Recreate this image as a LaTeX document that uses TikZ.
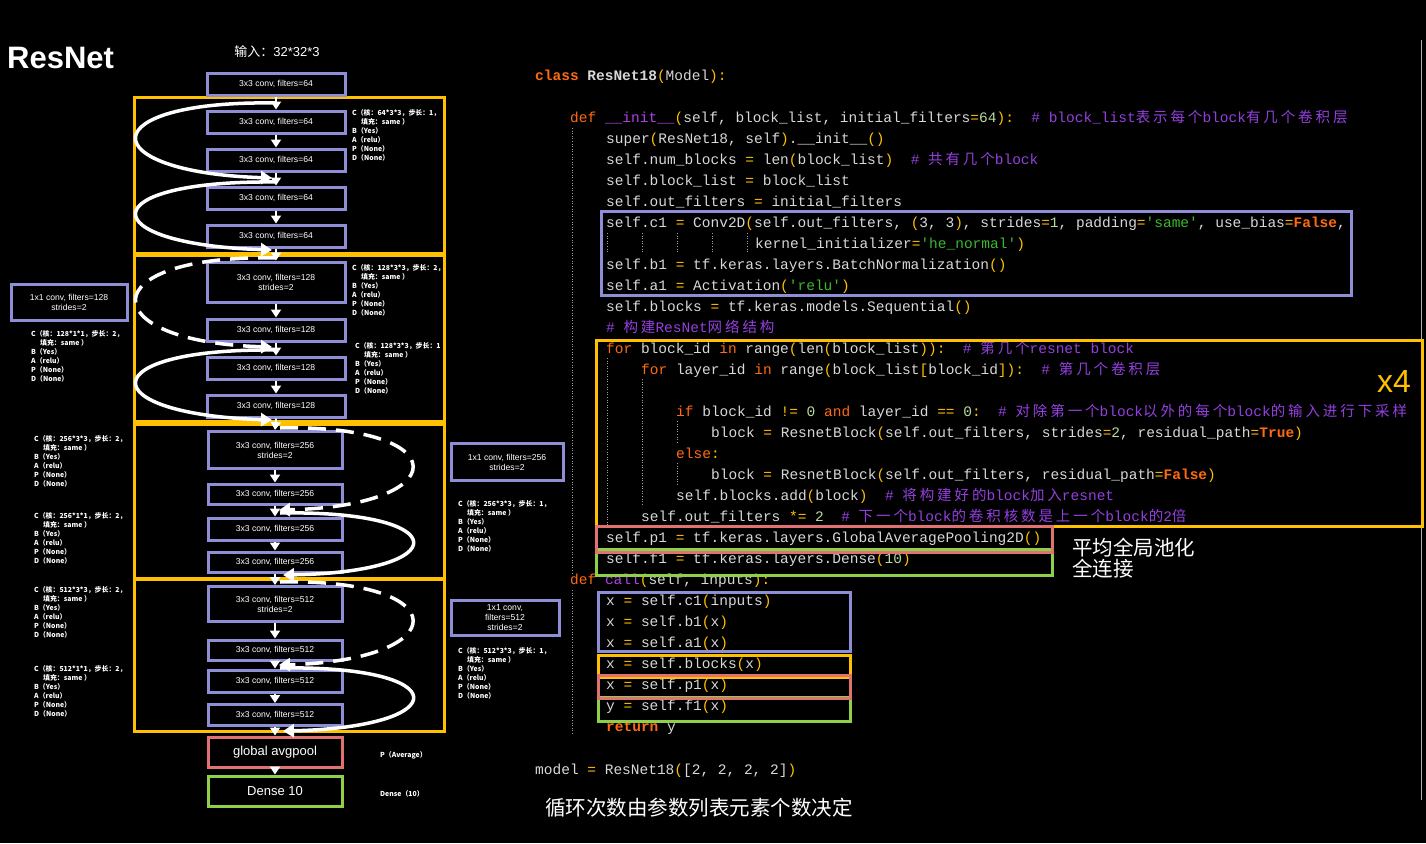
\documentclass[tikz,border=0pt]{standalone}
\usepackage{fontspec}
\setmainfont{Liberation Sans}
\setmonofont{Liberation Mono}
\newfontfamily\cjk{Noto Sans CJK SC}
\newfontfamily\cjkc[LetterSpace=20]{Noto Sans CJK SC}
\usetikzlibrary{arrows.meta}
\definecolor{boxpurple}{HTML}{8E8ED6}
\definecolor{boxorange}{HTML}{FFC000}
\definecolor{boxpink}{HTML}{E07272}
\definecolor{boxgreen}{HTML}{8FD04A}
\definecolor{codefg}{HTML}{D8D8D8}
\definecolor{kwc}{HTML}{FF6A10}
\definecolor{opc}{HTML}{FFC000}
\definecolor{strc}{HTML}{3CB830}
\definecolor{cmc}{HTML}{9440E0}
\definecolor{fnc}{HTML}{B040E8}
\definecolor{numc}{HTML}{B8D8A0}
\newcommand\kwd[1]{\textcolor{kwc}{#1}}
\newcommand\opr[1]{\textcolor{opc}{#1}}
\newcommand\strg[1]{\textcolor{strc}{#1}}
\newcommand\cmt[1]{\textcolor{cmc}{#1}}
\newcommand\fnm[1]{\textcolor{fnc}{#1}}
\newcommand\nmb[1]{\textcolor{numc}{#1}}
\begin{document}
\begin{tikzpicture}[x=1pt,y=-1pt,
  cbox/.style={draw=boxpurple, line width=3pt, fill=black, text=white, inner sep=1pt,
    minimum width=138pt, font=\fontsize{8.6}{10}\selectfont, align=center},
  sidebox/.style={cbox, minimum width=114pt},
  blockbox/.style={draw=boxorange, line width=3pt},
  darrow/.style={draw=white, line width=2pt, -{Triangle[width=10pt,length=8pt]}},
  skiparc/.style={draw=white, line width=3.5pt, -{Triangle[width=13pt,length=11pt]}},
  skipdash/.style={skiparc, dash pattern=on 18pt off 10pt},
  annot/.style={anchor=north west, inner sep=0pt, text=white, align=left,
    font=\cjk\bfseries\fontsize{6.9}{9}\selectfont},
  codeline/.style={anchor=base west, inner sep=0pt, text=codefg,
    font=\ttfamily\fontsize{14.5}{17}\selectfont},
  guide/.style={draw=gray!75, line width=0.6pt, dotted},
  hl/.style={line width=3pt}]
\useasboundingbox[fill=black] (0,0) rectangle (1426,843);

% ---------------- left: network ----------------
\node[anchor=west, inner sep=0pt, text=white, font=\bfseries\fontsize{31}{34}\selectfont] (title) at (7,58) {ResNet};
\node[text=white, inner sep=0pt, font=\fontsize{13}{15}\selectfont] (inp) at (277,52) {{\cjk 输入：}32*32*3};

\draw[blockbox] (134,97) rectangle (444,253);
\draw[blockbox] (134,255) rectangle (444,421);
\draw[blockbox] (134,424) rectangle (444,578);
\draw[blockbox] (134,579) rectangle (444,731);

\node[cbox, minimum height=22pt] (b1) at (276,84) {3x3 conv, filters=64};
\node[cbox, minimum height=22pt] (b2) at (276,122) {3x3 conv, filters=64};
\node[cbox, minimum height=22pt] (b3) at (276,160) {3x3 conv, filters=64};
\node[cbox, minimum height=22pt] (b4) at (276,198) {3x3 conv, filters=64};
\node[cbox, minimum height=22pt] (b5) at (276,236) {3x3 conv, filters=64};
\node[cbox, minimum height=40pt] (b6) at (276,282) {3x3 conv, filters=128\\strides=2};
\node[cbox, minimum height=22pt] (b7) at (276,330) {3x3 conv, filters=128};
\node[cbox, minimum height=22pt] (b8) at (276,368) {3x3 conv, filters=128};
\node[cbox, minimum height=22pt] (b9) at (276,406) {3x3 conv, filters=128};
\node[cbox, minimum width=134pt, minimum height=37pt] (b10) at (275,450) {3x3 conv, filters=256\\strides=2};
\node[cbox, minimum width=134pt, minimum height=20pt] (b11) at (275,494) {3x3 conv, filters=256};
\node[cbox, minimum width=134pt, minimum height=22pt] (b12) at (275,529) {3x3 conv, filters=256};
\node[cbox, minimum width=134pt, minimum height=20pt] (b13) at (275,562) {3x3 conv, filters=256};
\node[cbox, minimum width=134pt, minimum height=35pt] (b14) at (275,604) {3x3 conv, filters=512\\strides=2};
\node[cbox, minimum width=134pt, minimum height=20pt] (b15) at (275,650) {3x3 conv, filters=512};
\node[cbox, minimum width=134pt, minimum height=22pt] (b16) at (275,681) {3x3 conv, filters=512};
\node[cbox, minimum width=134pt, minimum height=21pt] (b17) at (275,715) {3x3 conv, filters=512};
\node[cbox, draw=boxpink, minimum width=134pt, minimum height=30pt, font=\fontsize{13}{15}\selectfont] (pool) at (275,752) {global avgpool};
\node[cbox, draw=boxgreen, minimum width=134pt, minimum height=30pt, font=\fontsize{13}{15}\selectfont] (dense) at (275,791) {Dense 10};

\node[sidebox, minimum width=116pt, minimum height=36pt] (s1) at (69,302) {1x1 conv, filters=128\\strides=2};
\node[sidebox, minimum width=112pt, minimum height=37pt] (s2) at (507,462) {1x1 conv, filters=256\\strides=2};
\node[sidebox, minimum width=108pt, minimum height=35pt] (s3) at (505,618) {1x1 conv,\\filters=512\\strides=2};

\foreach \a/\b in {b1/b2,b2/b3,b3/b4,b4/b5,b5/b6,b6/b7,b7/b8,b8/b9,b9/b10,b10/b11,b11/b12,b12/b13,b13/b14,b14/b15,b15/b16,b16/b17,b17/pool,pool/dense}
  \draw[darrow] (\a.south) -- (\b.north);

% skip connections
\coordinate (k1a) at (276,103);  \coordinate (k1b) at (272,178);
\coordinate (k2a) at (276,182);  \coordinate (k2b) at (272,250);
\coordinate (k3a) at (276,258);  \coordinate (k3b) at (272,347);
\coordinate (k4a) at (276,350);  \coordinate (k4b) at (272,420);
\coordinate (k5a) at (280,428);  \coordinate (k5b) at (279,510);
\coordinate (k6a) at (280,513);  \coordinate (k6b) at (283,575);
\coordinate (k7a) at (280,582);  \coordinate (k7b) at (279,665);
\coordinate (k8a) at (280,668);  \coordinate (k8b) at (283,731);
\draw[skiparc] (k1a) .. controls (91,100) and (91,172) .. (k1b);
\draw[skiparc] (k2a) .. controls (91,180) and (91,244) .. (k2b);
\draw[skipdash] (k3a) .. controls (91,254) and (91,342) .. (k3b);
\draw[skiparc] (k4a) .. controls (91,348) and (91,414) .. (k4b);
\draw[skipdash] (k5a) .. controls (456,424) and (456,506) .. (k5b);
\draw[skiparc] (k6a) .. controls (456,510) and (456,572) .. (k6b);
\draw[skipdash] (k7a) .. controls (456,578) and (456,660) .. (k7b);
\draw[skiparc] (k8a) .. controls (456,665) and (456,727) .. (k8b);

% annotations
\node[annot] (a1) at (352,109) {C（核：64*3*3，步长：1，\\\hspace*{1.3em}填充：same ）\\B（Yes）\\A（relu）\\P（None）\\D（None）};
\node[annot] (a2) at (352,264) {C（核：128*3*3，步长：2，\\\hspace*{1.3em}填充：same ）\\B（Yes）\\A（relu）\\P（None）\\D（None）};
\node[annot] (a3) at (355,342) {C（核：128*3*3，步长：1\\\hspace*{1.3em}填充：same ）\\B（Yes）\\A（relu）\\P（None）\\D（None）};
\node[annot] (a4) at (31,330) {C（核：128*1*1，步长：2，\\\hspace*{1.3em}填充：same ）\\B（Yes）\\A（relu）\\P（None）\\D（None）};
\node[annot] (a5) at (34,435) {C（核：256*3*3，步长：2，\\\hspace*{1.3em}填充：same ）\\B（Yes）\\A（relu）\\P（None）\\D（None）};
\node[annot] (a6) at (34,512) {C（核：256*1*1，步长：2，\\\hspace*{1.3em}填充：same ）\\B（Yes）\\A（relu）\\P（None）\\D（None）};
\node[annot] (a7) at (458,500) {C（核：256*3*3，步长：1，\\\hspace*{1.3em}填充：same ）\\B（Yes）\\A（relu）\\P（None）\\D（None）};
\node[annot] (a8) at (34,586) {C（核：512*3*3，步长：2，\\\hspace*{1.3em}填充：same ）\\B（Yes）\\A（relu）\\P（None）\\D（None）};
\node[annot] (a9) at (34,665) {C（核：512*1*1，步长：2，\\\hspace*{1.3em}填充：same ）\\B（Yes）\\A（relu）\\P（None）\\D（None）};
\node[annot] (a10) at (458,647) {C（核：512*3*3，步长：1，\\\hspace*{1.3em}填充：same ）\\B（Yes）\\A（relu）\\P（None）\\D（None）};
\node[annot] (a11) at (380,751) {P（Average）};
\node[annot] (a12) at (380,790) {Dense（10）};

% ---------------- right: code ----------------
\draw[gray!60, line width=0.8pt] (1421,40) -- (1421,800);
\draw[guide] (572,128) -- (572,575);
\draw[guide] (572,590) -- (572,735);
\draw[guide] (607,358) -- (607,527);
\draw[guide] (642,379) -- (642,505);
\draw[guide] (677,421) -- (677,444);
\draw[guide] (677,463) -- (677,486);
\foreach \gx in {607,642,677,712,747} \draw[guide] (\gx,233) -- (\gx,253);

\node[codeline] (l1) at (535,80) {\kwd{\textbf{class}} \textbf{ResNet18}\opr{(}Model\opr{):}};
\node[codeline] (l2) at (570,122) {\kwd{def} \fnm{\_\_init\_\_}\opr{(}self, block\_list, initial\_filters\opr{=}\nmb{64}\opr{):}~~\cmt{\#~block\_list{\cjkc 表示每个}block{\cjkc 有几个卷积层}}};
\node[codeline] (l3) at (606,143) {super\opr{(}ResNet18, self\opr{)}.\_\_init\_\_\opr{()}};
\node[codeline] (l4) at (606,164) {self.num\_blocks \opr{=} len\opr{(}block\_list\opr{)}~~\cmt{\#~{\cjkc 共有几个}block}};
\node[codeline] (l5) at (606,185) {self.block\_list \opr{=} block\_list};
\node[codeline] (l6) at (606,206) {self.out\_filters \opr{=} initial\_filters};
\node[codeline] (l7) at (606,227) {self.c1 \opr{=} Conv2D\opr{(}self.out\_filters, \opr{(}3, 3\opr{)}, strides\opr{=}\nmb{1}, padding\opr{=}\strg{'same'}, use\_bias\opr{=}\kwd{\textbf{False}},};
\node[codeline] (l8) at (755,248) {kernel\_initializer\opr{=}\strg{'he\_normal'}\opr{)}};
\node[codeline] (l9) at (606,269) {self.b1 \opr{=} tf.keras.layers.BatchNormalization\opr{()}};
\node[codeline] (l10) at (606,290) {self.a1 \opr{=} Activation\opr{(}\strg{'relu'}\opr{)}};
\node[codeline] (l11) at (606,311) {self.blocks \opr{=} tf.keras.models.Sequential\opr{()}};
\node[codeline] (l12) at (606,332) {\cmt{\#~{\cjkc 构建}ResNet{\cjkc 网络结构}}};
\node[codeline] (l13) at (606,353) {\kwd{for} block\_id \kwd{in} range\opr{(}len\opr{(}block\_list\opr{)):}~~\cmt{\#~{\cjkc 第几个}resnet block}};
\node[codeline] (l14) at (641,374) {\kwd{for} layer\_id \kwd{in} range\opr{(}block\_list\opr{[}block\_id\opr{]):}~~\cmt{\#~{\cjkc 第几个卷积层}}};
\node[codeline] (l16) at (676,416) {\kwd{if} block\_id \opr{!=} \nmb{0} \kwd{and} layer\_id \opr{==} \nmb{0}\opr{:}~~\cmt{\#~{\cjkc 对除第一个}block{\cjkc 以外的每个}block{\cjkc 的输入进行下采样}}};
\node[codeline] (l17) at (711,437) {block \opr{=} ResnetBlock\opr{(}self.out\_filters, strides\opr{=}\nmb{2}, residual\_path\opr{=}\kwd{\textbf{True}}\opr{)}};
\node[codeline] (l18) at (676,458) {\kwd{else}\opr{:}};
\node[codeline] (l19) at (711,479) {block \opr{=} ResnetBlock\opr{(}self.out\_filters, residual\_path\opr{=}\kwd{\textbf{False}}\opr{)}};
\node[codeline] (l20) at (676,500) {self.blocks.add\opr{(}block\opr{)}~~\cmt{\#~{\cjkc 将构建好的}block{\cjkc 加入}resnet}};
\node[codeline] (l21) at (641,521) {self.out\_filters \opr{*=} \nmb{2}~~\cmt{\#~{\cjkc 下一个}block{\cjkc 的卷积核数是上一个}block{\cjkc 的}2{\cjkc 倍}}};
\node[codeline] (l22) at (606,542) {self.p1 \opr{=} tf.keras.layers.GlobalAveragePooling2D\opr{()}};
\node[codeline] (l23) at (606,563) {self.f1 \opr{=} tf.keras.layers.Dense\opr{(}\nmb{10}\opr{)}};
\node[codeline] (l24) at (570,584) {\kwd{def} \fnm{call}\opr{(}self, inputs\opr{):}};
\node[codeline] (l25) at (606,605) {x \opr{=} self.c1\opr{(}inputs\opr{)}};
\node[codeline] (l26) at (606,626) {x \opr{=} self.b1\opr{(}x\opr{)}};
\node[codeline] (l27) at (606,647) {x \opr{=} self.a1\opr{(}x\opr{)}};
\node[codeline] (l28) at (606,668) {x \opr{=} self.blocks\opr{(}x\opr{)}};
\node[codeline] (l29) at (606,689) {x \opr{=} self.p1\opr{(}x\opr{)}};
\node[codeline] (l30) at (606,710) {y \opr{=} self.f1\opr{(}x\opr{)}};
\node[codeline] (l31) at (606,731) {\kwd{\textbf{return}} y};
\node[codeline] (l32) at (535,774) {model \opr{=} ResNet18\opr{(}[2, 2, 2, 2]\opr{)}};

% highlight boxes
\draw[hl, draw=boxpurple] (601,211) rectangle (1351,295);
\draw[hl, draw=boxorange] (596,340) rectangle (1422,526);
\draw[hl, draw=boxgreen] (596,549) rectangle (1052,575);
\draw[hl, draw=boxpink] (596,526) rectangle (1052,552);
\draw[hl, draw=boxpurple] (598,592) rectangle (850,651);
\draw[hl, draw=boxorange] (598,655) rectangle (850,677);
\draw[hl, draw=boxgreen] (598,697) rectangle (850,721);
\draw[hl, draw=boxpink] (598,675) rectangle (850,698);

\node[text=boxorange, inner sep=0pt, font=\fontsize{32}{34}\selectfont] (x4) at (1394,381) {x4};
\node[anchor=north west, text=white, inner sep=0pt, align=left, font=\cjk\fontsize{20.5}{21}\selectfont] (lab1) at (1072,538) {平均全局池化\\全连接};
\node[anchor=west, text=white, inner sep=0pt, font=\cjk\fontsize{20.5}{22}\selectfont] (lab2) at (545,808) {循环次数由参数列表元素个数决定};
\end{tikzpicture}
\end{document}
